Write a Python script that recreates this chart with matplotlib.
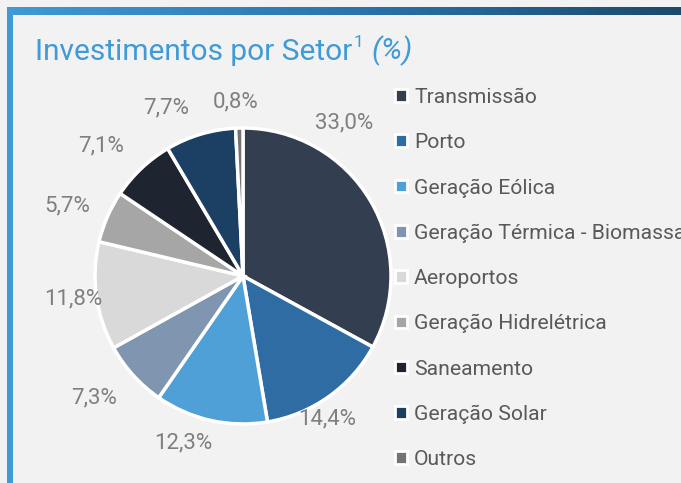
import numpy as np
import matplotlib.pyplot as plt
from matplotlib.patches import Rectangle
from matplotlib.colors import LinearSegmentedColormap

plt.rcParams['font.family'] = ['Roboto', 'DejaVu Sans']

# dados
setores = ['Transmissão', 'Porto', 'Geração Eólica', 'Geração Térmica - Biomassa',
           'Aeroportos', 'Geração Hidrelétrica', 'Saneamento', 'Geração Solar', 'Outros']
valores = [33.0, 14.4, 12.3, 7.3, 11.8, 5.7, 7.1, 7.7, 0.8]
cores = ['#333e50', '#2e6ca3', '#4fa0d6', '#8095af', '#d9d9d9',
         '#a6a6a6', '#1f2530', '#1c3f64', '#737373']

# posicao dos rotulos (distancia radial e ajuste de angulo)
rot_dist = [1.24, 1.12, 1.20, 1.30, 1.16, 1.28, 1.30, 1.25, 1.18]
rot_ajuste = [26, -5, -7, -3, 0, 2, 4, 8, 1]

W, H = 681, 483
fig = plt.figure(figsize=(W / 100, H / 100), dpi=100)
fig.patch.set_facecolor('#f2f2f2')

# moldura: barra esquerda e barra superior em degrade
fig.add_artist(Rectangle((7 / W, 0), 6 / W, 1 - 7 / H, transform=fig.transFigure,
                         color='#3f9ad6', lw=0))
gax = fig.add_axes([7 / W, 1 - 15 / H, 1 - 7 / W, 8 / H])
cmap = LinearSegmentedColormap.from_list('barra', ['#3f9ad6', '#2b75ae', '#1b4a6c'])
gax.imshow(np.linspace(0, 1, 256)[None, :], aspect='auto', cmap=cmap)
gax.axis('off')

# pizza
cx, cy, r = 243, 276, 148
a = 1.6
lado = 2 * a * r
ax = fig.add_axes([(cx - a * r) / W, (H - cy - a * r) / H, lado / W, lado / H])
wedges, _ = ax.pie(valores, colors=cores, startangle=90, counterclock=False, radius=1,
                   wedgeprops=dict(edgecolor='white', linewidth=2.5))
ax.set_xlim(-a, a)
ax.set_ylim(-a, a)
ax.axis('off')

for w, v, d, aj in zip(wedges, valores, rot_dist, rot_ajuste):
    ang = np.deg2rad((w.theta1 + w.theta2) / 2 + aj)
    ax.text(d * np.cos(ang), d * np.sin(ang), f'{v:.1f}%'.replace('.', ','),
            ha='center', va='center', fontsize=16, color='#7f7f7f')

# legenda
handles = [Rectangle((0, 0), 1, 1, facecolor=c, edgecolor='white', linewidth=2) for c in cores]
fig.legend(handles, setores, loc='upper left', bbox_to_anchor=(395 / W, 1 - 88 / H),
           frameon=False, fontsize=15.2, labelcolor='#595959', handlelength=0.55,
           handleheight=0.55, handletextpad=0.35, labelspacing=1.24, borderpad=0,
           borderaxespad=0)

# titulo
azul = '#3f9ad6'
titulo = fig.text(35 / W, 1 - 60 / H, 'Investimentos por Setor', fontsize=21.5,
                  color=azul, va='baseline')
sup = ax.annotate('1', xy=(1, 1), xycoords=titulo, xytext=(1, 2), textcoords='offset points',
                  fontsize=12.5, color=azul, va='top', ha='left', annotation_clip=False)
ax.annotate('(%)', xy=(1, 0), xycoords=titulo, xytext=(14, 0), textcoords='offset points',
            fontsize=21.5, color=azul, style='italic', va='bottom', ha='left',
            annotation_clip=False)

fig.savefig('out.png', dpi=100, facecolor=fig.get_facecolor())
